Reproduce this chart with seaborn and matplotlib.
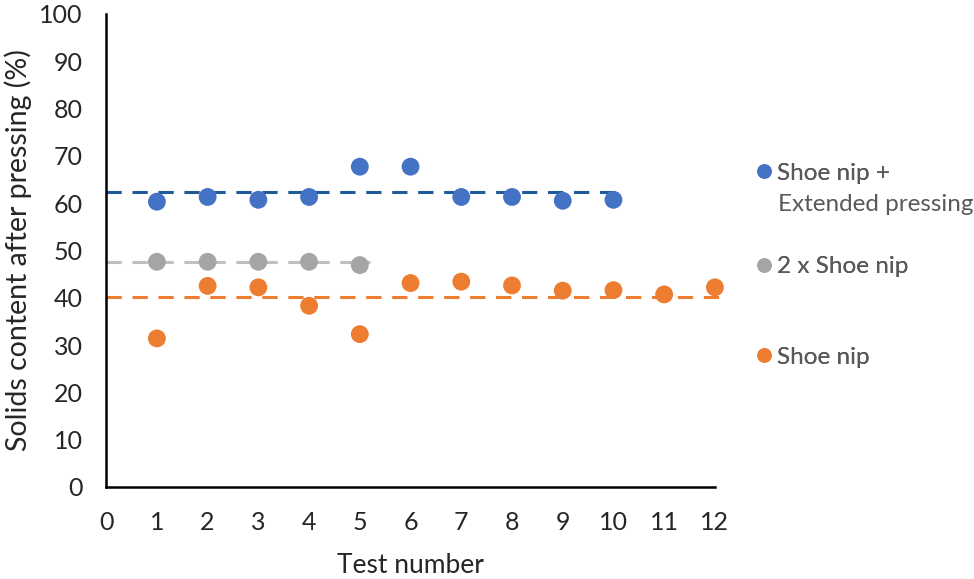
import numpy as np
import pandas as pd
import matplotlib.pyplot as plt
import seaborn as sns

# Data
tests_ext = [1, 2, 3, 4, 5, 6, 7, 8, 9, 10]
solids_ext = [60.3, 61.3, 60.7, 61.3, 67.7, 67.7, 61.3, 61.3, 60.5, 60.7]

tests_double = [1, 2, 3, 4, 5]
solids_double = [47.6, 47.6, 47.6, 47.6, 46.9]

tests_single = [1, 2, 3, 4, 5, 6, 7, 8, 9, 10, 11, 12]
solids_single = [31.4, 42.5, 42.2, 38.3, 32.3, 43.1, 43.4, 42.6, 41.5, 41.6, 40.7, 42.2]

labels = ['Shoe nip +', '2 x Shoe nip', 'Shoe nip']
label_extra = 'Extended pressing'
colors = ['#4472C4', '#A5A5A5', '#ED7D31']
line_colors = ['#1F5B9A', '#BFBFBF', '#ED7D31']

series = [(tests_ext, solids_ext), (tests_double, solids_double), (tests_single, solids_single)]

sns.set_style('white')
plt.rcParams['font.family'] = ['Lato', 'DejaVu Sans']

fig = plt.figure(figsize=(9.74, 5.79), dpi=100)
ax = fig.add_axes([0.109, 0.159, 0.625, 0.817])

handles = []
for (x, y), c, lc in zip(series, colors, line_colors):
    df = pd.DataFrame({'Test': x, 'Solids': y})
    # average line, drawn from 0 to just past the last test
    ax.plot([0, max(x) + 0.2], [np.mean(y)] * 2, color=lc, lw=2.2,
            dashes=(5, 3.5), zorder=2, clip_on=False)
    sns.scatterplot(data=df, x='Test', y='Solids', ax=ax, color=c,
                    s=165, edgecolor='none', zorder=3, clip_on=False)
    handles.append(plt.Line2D([], [], marker='o', ls='none', color=c,
                              markersize=10.5, markeredgewidth=0))

ax.set_xlim(0, 12)
ax.set_ylim(0, 100)
ax.set_xticks(range(0, 13))
ax.set_yticks(range(0, 101, 10))
ax.tick_params(direction='in', length=6, width=1.5, colors='black',
               labelcolor='#262626', labelsize=18)
ax.tick_params(axis='x', pad=17)
ax.tick_params(axis='y', pad=17)
for s in ['top', 'right']:
    ax.spines[s].set_visible(False)
for s in ['left', 'bottom']:
    ax.spines[s].set_color('black')
    ax.spines[s].set_linewidth(1.8)

ax.set_xlabel('Test number', fontsize=19, color='#262626', labelpad=14)
ax.set_ylabel('Solids content after pressing (%)', fontsize=20.5,
              color='#262626', labelpad=5)

# legend entries placed one by one, as in the reference
legend_y = [0.701, 0.539, 0.383]
for h, lab, yy in zip(handles, labels, legend_y):
    leg = fig.legend([h], [lab], loc='center left', bbox_to_anchor=(0.749, yy),
                     frameon=False, fontsize=17.5, handletextpad=0.05,
                     handlelength=1.0, labelcolor='#595959')
    fig.add_artist(leg)
fig.text(0.799, 0.646, label_extra, fontsize=17.5, color='#595959',
         va='center', ha='left')

fig.savefig('out.png', dpi=100)
